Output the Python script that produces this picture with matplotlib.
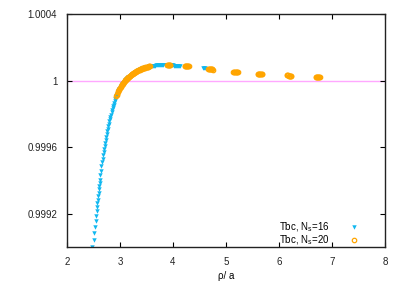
import matplotlib
matplotlib.use("Agg")
import matplotlib.pyplot as plt

plt.rcParams['font.family'] = ['Liberation Sans', 'DejaVu Sans']
plt.rcParams['mathtext.default'] = 'regular'

# Tbc, Ns=16 (blue triangles)
x16 = [2.477, 2.504, 2.515, 2.528, 2.542, 2.547, 2.560, 2.566, 2.572, 2.579,
       2.591, 2.598, 2.604, 2.609, 2.617, 2.623,
       2.63, 2.64, 2.65, 2.66, 2.67, 2.68, 2.69, 2.70, 2.71, 2.72,
       2.73, 2.74, 2.75, 2.76, 2.77, 2.78, 2.79, 2.80, 2.81, 2.82,
       2.83, 2.84, 2.85, 2.86, 2.87, 2.88, 2.89, 2.90, 2.91, 2.92,
       2.93, 2.94, 2.95, 2.96, 2.97, 2.98, 2.99, 3.00,
       3.02, 3.04, 3.06, 3.08, 3.10, 3.12, 3.14, 3.16, 3.18, 3.20,
       3.22, 3.24, 3.26, 3.28, 3.30, 3.32, 3.34, 3.36, 3.38, 3.40,
       3.42, 3.44, 3.46, 3.48, 3.50, 3.52, 3.54, 3.56, 3.58, 3.60,
       3.62, 3.64, 3.66, 3.68, 3.70, 3.72, 3.74, 3.76, 3.78, 3.80,
       3.82, 3.84, 3.86, 3.88, 3.90, 3.92, 3.94, 3.96, 3.98, 4.00,
       4.02, 4.04, 4.06, 4.08, 4.10, 4.12, 4.14,
       4.57, 4.59, 4.61]
y16 = [0.998997, 0.999042, 0.999084, 0.999122, 0.999158, 0.999186, 0.999214, 0.999238, 0.999262, 0.999284,
       0.999306, 0.999326, 0.999346, 0.999367, 0.999386, 0.999403,
       0.999430, 0.999458, 0.999484, 0.999508, 0.999530, 0.999550, 0.999570, 0.999590, 0.999609, 0.999627,
       0.999645, 0.999662, 0.999679, 0.999695, 0.999711, 0.999726, 0.999741, 0.999755, 0.999769, 0.999783,
       0.999796, 0.999809, 0.999821, 0.999833, 0.999845, 0.999856, 0.999867, 0.999877, 0.999887, 0.999896,
       0.999905, 0.999913, 0.999921, 0.999929, 0.999936, 0.999943, 0.999950, 0.999956,
       0.999967, 0.999977, 0.999986, 0.999994, 1.000001, 1.000008, 1.000015, 1.000021, 1.000027, 1.000032,
       1.000037, 1.000042, 1.000046, 1.000050, 1.000054, 1.000058, 1.000061, 1.000064, 1.000067, 1.000070,
       1.000073, 1.000075, 1.000077, 1.000079, 1.000081, 1.000083, 1.000085, 1.000086, 1.000087, 1.000088,
       1.000089, 1.000090, 1.000090, 1.000091, 1.000091, 1.000092, 1.000092, 1.000092, 1.000093, 1.000093,
       1.000093, 1.000093, 1.000093, 1.000093, 1.000093, 1.000092, 1.000092, 1.000092, 1.000091, 1.000091,
       1.000090, 1.000090, 1.000089, 1.000089, 1.000088, 1.000088, 1.000087,
       1.000078, 1.000078, 1.000077]

# Tbc, Ns=20 (orange open circles)
x20 = [2.93, 2.94, 2.95, 2.96, 2.97, 2.98, 2.99, 3.00, 3.01, 3.02,
       3.03, 3.04, 3.05, 3.06, 3.07, 3.08, 3.09, 3.10, 3.11, 3.12,
       3.13, 3.14, 3.15, 3.16, 3.17, 3.18, 3.19, 3.20, 3.21, 3.22,
       3.23, 3.24, 3.25, 3.26, 3.27, 3.28, 3.29, 3.30, 3.31, 3.32,
       3.33, 3.34, 3.35, 3.36, 3.37, 3.38, 3.39, 3.40, 3.41, 3.42,
       3.43, 3.44, 3.45, 3.46, 3.47, 3.48, 3.49, 3.50, 3.51, 3.52,
       3.53, 3.54, 3.55, 3.56,
       3.89, 3.90, 3.91, 3.92, 3.93, 3.94, 3.95,
       4.22, 4.23, 4.24, 4.25, 4.26, 4.27, 4.28, 4.29, 4.30,
       4.66, 4.67, 4.68, 4.69, 4.70, 4.71, 4.72, 4.73, 4.74, 4.75,
       5.14, 5.15, 5.16, 5.17, 5.18, 5.19, 5.20, 5.21, 5.22,
       5.60, 5.61, 5.62, 5.63, 5.64, 5.65, 5.66, 5.67, 5.68,
       6.15, 6.16, 6.17, 6.18, 6.19, 6.20, 6.21, 6.22, 6.23,
       6.69, 6.70, 6.71, 6.72, 6.73, 6.74, 6.75, 6.76, 6.77]
y20 = [0.999905, 0.999913, 0.999921, 0.999929, 0.999936, 0.999943, 0.999950, 0.999956, 0.999962, 0.999967,
       0.999972, 0.999977, 0.999982, 0.999986, 0.999990, 0.999994, 0.999998, 1.000001, 1.000005, 1.000008,
       1.000012, 1.000015, 1.000018, 1.000021, 1.000024, 1.000027, 1.000030, 1.000032, 1.000035, 1.000037,
       1.000040, 1.000042, 1.000044, 1.000046, 1.000048, 1.000050, 1.000052, 1.000054, 1.000056, 1.000058,
       1.000060, 1.000061, 1.000063, 1.000064, 1.000066, 1.000067, 1.000069, 1.000070, 1.000072, 1.000073,
       1.000074, 1.000075, 1.000076, 1.000077, 1.000078, 1.000079, 1.000080, 1.000081, 1.000082, 1.000083,
       1.000084, 1.000085, 1.000085, 1.000086,
       1.000093, 1.000093, 1.000093, 1.000093, 1.000093, 1.000092, 1.000092,
       1.000087, 1.000087, 1.000087, 1.000086, 1.000086, 1.000086, 1.000085, 1.000085, 1.000085,
       1.000069, 1.000069, 1.000069, 1.000068, 1.000068, 1.000068, 1.000067, 1.000067, 1.000067, 1.000066,
       1.000052, 1.000052, 1.000052, 1.000051, 1.000051, 1.000051, 1.000050, 1.000050, 1.000050,
       1.000041, 1.000041, 1.000041, 1.000040, 1.000040, 1.000040, 1.000039, 1.000039, 1.000039,
       1.000031, 1.000031, 1.000031, 1.000030, 1.000030, 1.000030, 1.000029, 1.000029, 1.000029,
       1.000023, 1.000023, 1.000023, 1.000022, 1.000022, 1.000022, 1.000021, 1.000021, 1.000021]

xticks = [2, 3, 4, 5, 6, 7, 8]
yticks = [0.9992, 0.9996, 1.0, 1.0004]
yticklabels = ['0.9992', '0.9996', '1', '1.0004']

fig = plt.figure(figsize=(4.07, 2.85), dpi=100)
ax = fig.add_axes([67/407, 38/285, 318/407, 233/285])

ax.axhline(1.0, color='#ffa8ff', lw=1.0, zorder=1)
ax.plot(x16, y16, linestyle='none', marker='v', markersize=3.2,
        color='#10b8f0', markeredgewidth=0, label='Tbc, N$_s$=16', zorder=2)
ax.plot(x20, y20, linestyle='none', marker='o', markersize=3.2,
        markerfacecolor='none', markeredgecolor='#ffa500', markeredgewidth=0.9,
        label='Tbc, N$_s$=20', zorder=3)

ax.set_xlim(2, 8)
ax.set_ylim(0.9990, 1.0004)
ax.set_xticks(xticks)
ax.set_xticklabels([str(t) for t in xticks])
ax.set_yticks(yticks)
ax.set_yticklabels(yticklabels)
ax.tick_params(direction='in', length=3.5, width=0.8, top=True, right=True,
               labelsize=7, labelcolor='#222222', pad=7)
for s in ax.spines.values():
    s.set_linewidth(1.0)
    s.set_color('#222222')

ax.set_xlabel('ρ/ a', fontsize=7, labelpad=3)

ax.legend(loc='lower right', bbox_to_anchor=(0.918, 0.0), frameon=False,
          markerfirst=False, fontsize=7, handlelength=1.0, handletextpad=2.0,
          labelspacing=-0.05, borderpad=0, borderaxespad=0)

fig.savefig('out.png', dpi=100)
